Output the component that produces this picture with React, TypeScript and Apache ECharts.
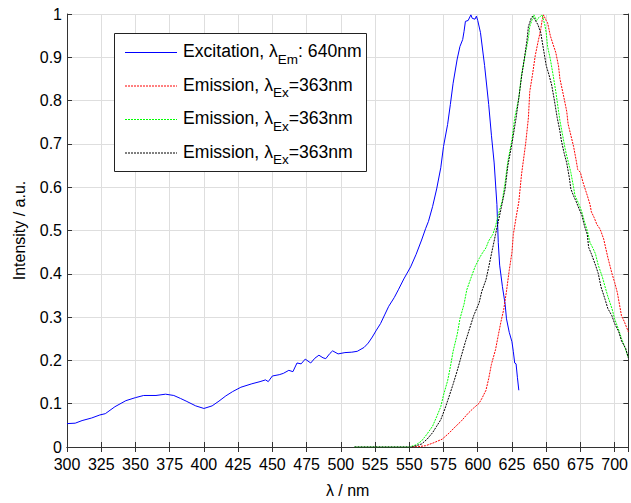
import React, { useEffect, useRef } from "react";
import * as echarts from "echarts";

const FONT = "'Liberation Sans', Arial, Helvetica, sans-serif";

// Excitation (λEm = 640 nm)
const excWl = [300, 306, 311, 318, 324, 328, 335, 343, 350, 356, 365, 372, 378, 383, 387, 394, 400, 406, 411, 416, 421, 427, 435, 441, 445, 447, 450, 455, 458, 462, 465, 468, 471, 474, 478, 481, 484, 487, 489, 492, 494, 498, 503, 508, 512, 517, 520, 523, 526, 529, 532, 535, 539, 542, 546, 551, 555, 559, 562, 564, 567, 570, 573, 575, 578, 580, 582, 585, 587, 589, 590, 591, 593, 595, 596, 598, 599, 600, 602, 605, 608, 610, 612, 614, 615, 616, 618, 620, 621, 623, 625, 626, 627, 628, 629, 630];
const excVal = [0.054, 0.055, 0.061, 0.067, 0.074, 0.077, 0.093, 0.107, 0.114, 0.119, 0.119, 0.122, 0.119, 0.112, 0.106, 0.095, 0.089, 0.095, 0.106, 0.118, 0.128, 0.138, 0.146, 0.151, 0.155, 0.151, 0.164, 0.167, 0.170, 0.177, 0.174, 0.194, 0.192, 0.203, 0.194, 0.205, 0.212, 0.206, 0.204, 0.216, 0.222, 0.215, 0.218, 0.219, 0.221, 0.230, 0.240, 0.254, 0.270, 0.285, 0.305, 0.325, 0.345, 0.363, 0.388, 0.416, 0.445, 0.478, 0.505, 0.521, 0.555, 0.596, 0.645, 0.694, 0.745, 0.791, 0.840, 0.896, 0.925, 0.941, 0.960, 0.983, 0.985, 0.998, 0.990, 0.988, 0.995, 0.985, 0.957, 0.881, 0.791, 0.720, 0.656, 0.560, 0.472, 0.420, 0.371, 0.330, 0.296, 0.265, 0.243, 0.220, 0.194, 0.192, 0.160, 0.131];

// Emission (red)
const redWl = [552, 557, 562, 568, 574, 579, 584, 588, 593, 597, 601, 603, 606, 608, 610, 613, 615, 617, 619, 621, 623, 625, 626, 628, 630, 632, 635, 637, 638, 640, 642, 644, 646, 647, 648, 650, 651, 653, 655, 657, 659, 660, 663, 665, 666, 668, 670, 672, 673, 675, 677, 680, 682, 683, 685, 687, 689, 690, 692, 695, 698, 700, 702, 705, 707, 710];
const redVal = [0, 0.001, 0.003, 0.010, 0.018, 0.032, 0.048, 0.060, 0.078, 0.090, 0.101, 0.112, 0.131, 0.158, 0.191, 0.225, 0.258, 0.290, 0.318, 0.360, 0.408, 0.450, 0.491, 0.530, 0.566, 0.630, 0.701, 0.760, 0.821, 0.860, 0.904, 0.935, 0.964, 0.985, 0.998, 0.985, 0.980, 0.950, 0.930, 0.911, 0.880, 0.851, 0.806, 0.775, 0.746, 0.720, 0.694, 0.660, 0.641, 0.634, 0.610, 0.581, 0.560, 0.543, 0.530, 0.514, 0.505, 0.498, 0.480, 0.438, 0.401, 0.380, 0.356, 0.303, 0.290, 0.266];

// Emission (green)
const greenWl = [510, 550, 555, 559, 563, 567, 570, 573, 575, 578, 580, 582, 585, 587, 590, 592, 595, 598, 601, 603, 606, 608, 611, 613, 615, 618, 620, 622, 625, 627, 630, 632, 635, 637, 638, 640, 641, 643, 644, 646, 647, 649, 650, 651, 653, 655, 657, 660, 662, 664, 666, 668, 670, 671, 674, 676, 678, 680, 682, 684, 686, 688, 691, 693, 695, 698, 700, 703, 705, 708, 710];
const greenVal = [0, 0, 0.005, 0.014, 0.030, 0.048, 0.070, 0.093, 0.120, 0.153, 0.185, 0.221, 0.260, 0.296, 0.330, 0.363, 0.390, 0.416, 0.435, 0.446, 0.460, 0.476, 0.491, 0.510, 0.536, 0.570, 0.611, 0.660, 0.709, 0.760, 0.806, 0.860, 0.911, 0.945, 0.971, 0.990, 0.998, 0.985, 0.990, 0.995, 0.998, 0.975, 0.957, 0.925, 0.896, 0.860, 0.821, 0.754, 0.720, 0.686, 0.660, 0.634, 0.600, 0.581, 0.560, 0.543, 0.520, 0.500, 0.472, 0.460, 0.446, 0.420, 0.393, 0.370, 0.348, 0.320, 0.296, 0.270, 0.251, 0.225, 0.206];

// Emission (black)
const blackWl = [510, 552, 556, 559, 563, 567, 570, 573, 576, 579, 582, 585, 588, 591, 594, 597, 601, 603, 606, 608, 610, 613, 614, 617, 620, 622, 625, 628, 630, 632, 634, 636, 637, 639, 640, 642, 644, 646, 648, 650, 652, 654, 656, 658, 660, 661, 663, 665, 667, 668, 670, 672, 674, 676, 678, 680, 681, 683, 686, 688, 690, 693, 695, 698, 700, 703, 705, 708, 710];
const blackVal = [0, 0, 0.004, 0.007, 0.018, 0.033, 0.048, 0.063, 0.088, 0.116, 0.145, 0.176, 0.210, 0.243, 0.273, 0.303, 0.333, 0.360, 0.386, 0.415, 0.446, 0.491, 0.506, 0.550, 0.596, 0.650, 0.701, 0.760, 0.806, 0.855, 0.896, 0.940, 0.971, 0.990, 0.995, 0.986, 0.975, 0.957, 0.919, 0.881, 0.860, 0.836, 0.800, 0.761, 0.730, 0.709, 0.680, 0.656, 0.620, 0.596, 0.580, 0.566, 0.550, 0.536, 0.510, 0.491, 0.461, 0.446, 0.420, 0.401, 0.370, 0.341, 0.320, 0.303, 0.285, 0.266, 0.245, 0.228, 0.206];

const legendItems = [
  { color: "#0000ff", dash: "solid", pre: "Excitation, λ", sub: "Em", post: ": 640nm" },
  { color: "#ff0000", dash: "dotted", pre: "Emission, λ", sub: "Ex", post: "=363nm" },
  { color: "#00ff00", dash: "dotted", pre: "Emission, λ", sub: "Ex", post: "=363nm" },
  { color: "#000000", dash: "dotted", pre: "Emission, λ", sub: "Ex", post: "=363nm" },
];

const zip = (xs: number[], ys: number[]) => xs.map((x, i) => [x, ys[i]]);

export default function App() {
  const ref = useRef<HTMLDivElement>(null);
  useEffect(() => {
    if (!ref.current) return;
    const chart = echarts.init(ref.current, undefined, { renderer: "svg" });
    const axisColor = "#333333";
    const gridColor = "#dedede";
    const DOT = [2, 1];

    const legendGraphics: any[] = [
      {
        type: "rect",
        shape: { x: 114.5, y: 33.5, width: 252, height: 138 },
        style: { fill: "#ffffff", stroke: "#222222", lineWidth: 1 },
        z: 100,
      },
    ];
    const rowY = [52.5, 86, 119.5, 153];
    legendItems.forEach((it, i) => {
      legendGraphics.push({
        type: "line",
        shape: { x1: 125, y1: rowY[i], x2: 177, y2: rowY[i] },
        style: { stroke: it.color, lineWidth: 1, lineDash: it.dash === "solid" ? null : DOT },
        z: 101,
      });
      legendGraphics.push({
        type: "text",
        x: 183,
        y: rowY[i] - 1.5,
        z: 101,
        style: {
          text: `${it.pre}{sub|${it.sub}}${it.post}`,
          fontSize: 17.6,
          fontFamily: FONT,
          fill: "#000000",
          verticalAlign: "middle",
          align: "left",
          lineHeight: 30,
          rich: {
            sub: { fontSize: 13.5, fontFamily: FONT, fill: "#000000", verticalAlign: "bottom", lineHeight: 14 },
          },
        },
      });
    });

    const lineSeries = (name: string, data: number[][], color: string, dotted: boolean) => ({
      name,
      type: "line",
      data,
      xAxisIndex: 0,
      yAxisIndex: 0,
      showSymbol: false,
      symbol: "none",
      smooth: false,
      lineStyle: { color, width: 1, type: dotted ? DOT : "solid" },
      emphasis: { disabled: true },
      z: 3,
    });

    chart.setOption({
      animation: false,
      grid: { left: 67, right: 1, top: 14, bottom: 45, containLabel: false },
      xAxis: [
        {
          type: "value",
          min: 300,
          max: 710,
          interval: 25,
          position: "bottom",
          name: "λ / nm",
          nameLocation: "middle",
          nameGap: 35,
          nameTextStyle: { fontSize: 16, fontFamily: FONT, color: "#000" },
          axisLine: { show: true, lineStyle: { color: axisColor, width: 1 } },
          axisTick: { show: true, inside: true, length: 5, lineStyle: { color: axisColor } },
          axisLabel: { fontSize: 16, fontFamily: FONT, color: "#000", margin: 9, showMaxLabel: false },
          splitLine: { show: true, lineStyle: { color: gridColor, width: 1 } },
        },
        {
          type: "value",
          min: 300,
          max: 710,
          interval: 25,
          position: "top",
          axisLine: { show: true, lineStyle: { color: axisColor, width: 1 } },
          axisTick: { show: true, inside: true, length: 5, lineStyle: { color: axisColor } },
          axisLabel: { show: false },
          splitLine: { show: false },
        },
      ],
      yAxis: [
        {
          type: "value",
          min: 0,
          max: 1,
          interval: 0.1,
          position: "left",
          name: "Intensity / a.u.",
          nameLocation: "middle",
          nameGap: 40,
          nameRotate: 90,
          nameTextStyle: { fontSize: 16, fontFamily: FONT, color: "#000" },
          axisLine: { show: true, lineStyle: { color: axisColor, width: 1 } },
          axisTick: { show: true, inside: true, length: 5, lineStyle: { color: axisColor } },
          axisLabel: { fontSize: 16, fontFamily: FONT, color: "#000", margin: 5 },
          splitLine: { show: true, lineStyle: { color: gridColor, width: 1 } },
        },
        {
          type: "value",
          min: 0,
          max: 1,
          interval: 0.1,
          position: "right",
          axisLine: { show: true, lineStyle: { color: axisColor, width: 1 } },
          axisTick: { show: true, inside: true, length: 5, lineStyle: { color: axisColor } },
          axisLabel: { show: false },
          splitLine: { show: false },
        },
      ],
      series: [
        lineSeries("Excitation", zip(excWl, excVal), "#0000ff", false),
        lineSeries("Emission red", zip(redWl, redVal), "#ff0000", true),
        lineSeries("Emission green", zip(greenWl, greenVal), "#00ff00", true),
        lineSeries("Emission black", zip(blackWl, blackVal), "#000000", true),
      ],
      graphic: legendGraphics,
    });
    return () => chart.dispose();
  }, []);
  return <div ref={ref} style={{ width: 631, height: 503, position: "absolute", left: 0, top: 0 }} />;
}
